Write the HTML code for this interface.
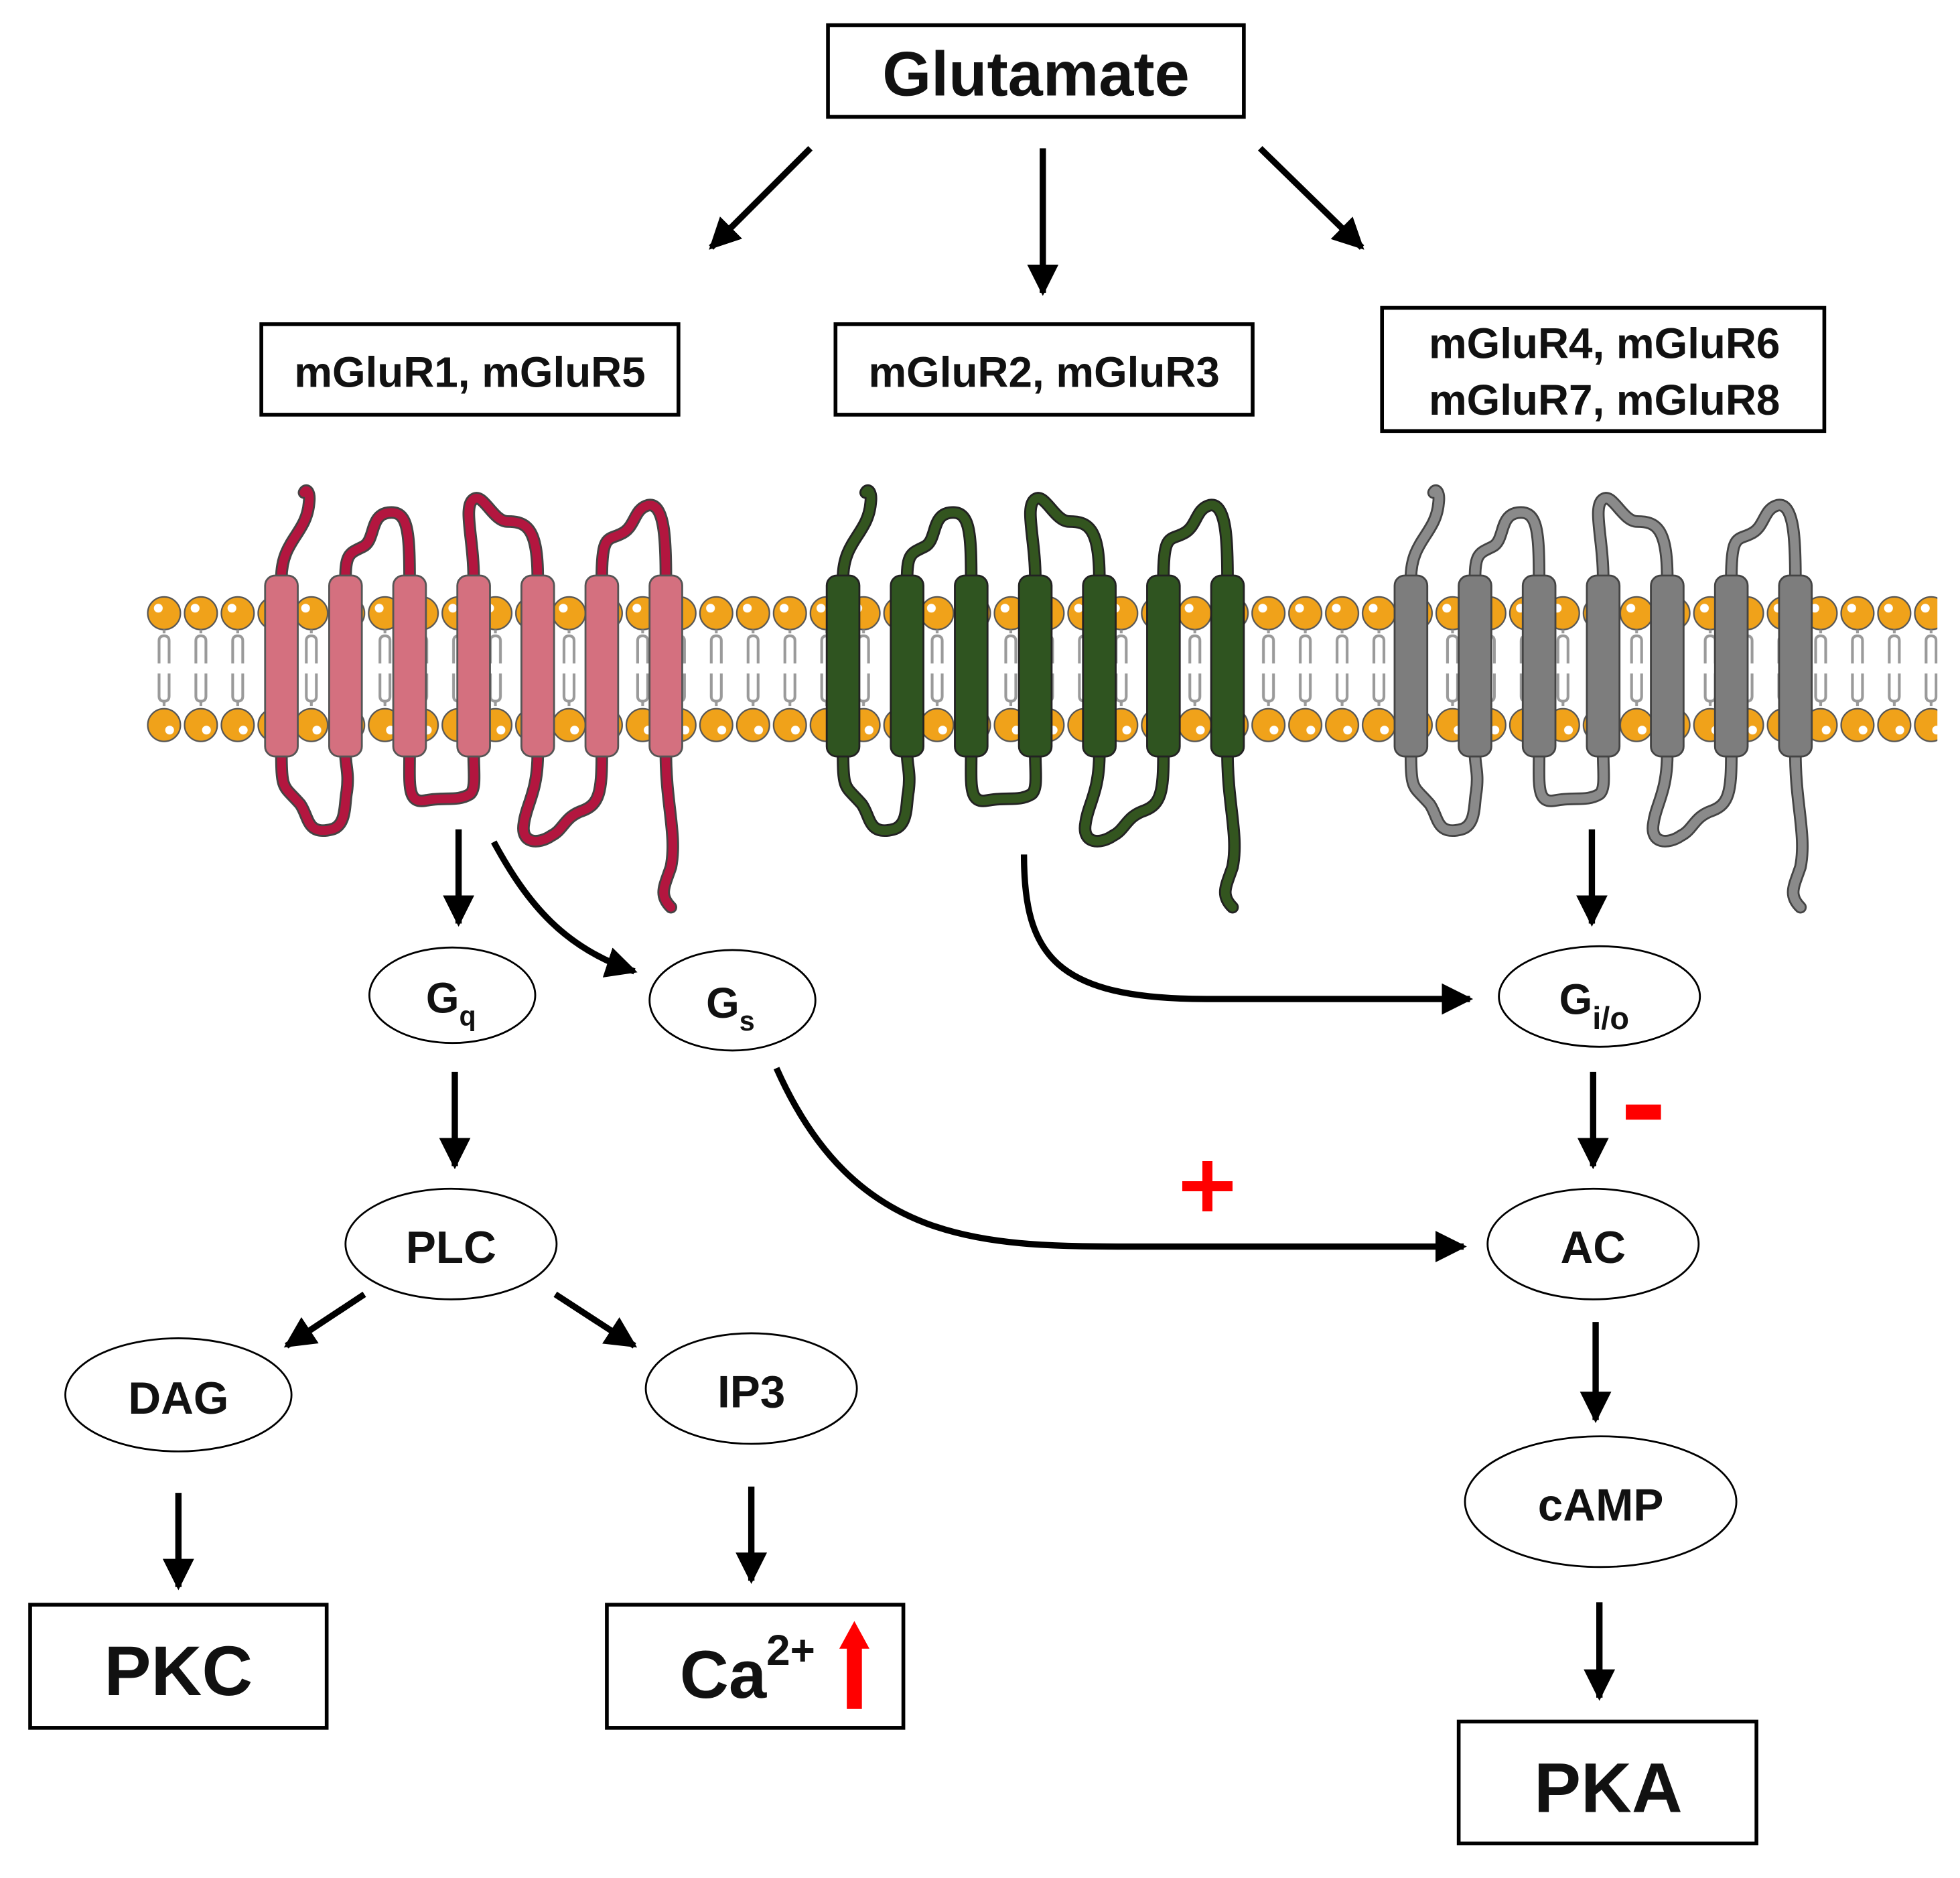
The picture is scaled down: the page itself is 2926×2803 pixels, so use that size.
<!DOCTYPE html>
<html><head><meta charset="utf-8">
<style>
html,body{margin:0;padding:0;background:#fff;}
svg{display:block;}
text{font-family:"Liberation Sans",Arial,sans-serif;font-weight:bold;fill:#111;}
</style></head>
<body>
<svg width="2926" height="2803" viewBox="0 0 1560 1494.5" preserveAspectRatio="none" xmlns="http://www.w3.org/2000/svg">
<defs>
<marker id="ah" viewBox="0 0 10 10" refX="9" refY="5" markerWidth="5" markerHeight="5" markerUnits="strokeWidth" orient="auto">
<path d="M0,0 L10,5 L0,10 z" fill="#000"/>
</marker>
<pattern id="headT" x="116" y="474" width="29.3" height="30" patternUnits="userSpaceOnUse">
<circle cx="14.6" cy="14" r="13" fill="#f0a21a" stroke="#555" stroke-width="1.2"/>
<circle cx="10" cy="10" r="3.5" fill="#fff"/>
<path d="M14.6,27 L14.6,30" stroke="#999" stroke-width="2"/>
</pattern>
<pattern id="headB" x="116" y="562" width="29.3" height="30" patternUnits="userSpaceOnUse">
<circle cx="14.6" cy="15" r="13" fill="#f0a21a" stroke="#555" stroke-width="1.2"/>
<circle cx="19" cy="19" r="3.5" fill="#fff"/>
</pattern>
<pattern id="tails" x="116" y="500" width="29.3" height="62" patternUnits="userSpaceOnUse">
<path d="M14.6,0 V4 M10.6,28 V10 Q10.6,6 14.6,6 Q18.6,6 18.6,10 V28 M10.6,36 V54 Q10.6,58 14.6,58 Q18.6,58 18.6,54 V36 M14.6,58 V62" fill="none" stroke="#9a9a9a" stroke-width="2.2"/>
</pattern>
<g id="loops">
<path d="M0,460 C0,430 20,425 22,400 C23,392 20,388 18,392"/>
<path d="M51,460 C51,440 55,440 65,435 C75,430 70,410 85,408 C100,406 102,420 102,460"/>
<path d="M153,460 C153,430 145,405 152,398 C160,390 168,415 180,415 C195,415 204,420 204,460"/>
<path d="M255,460 C255,425 260,430 270,425 C282,420 280,405 292,402 C305,400 306,430 306,460"/>
<path d="M0,600 C0,630 2,625 15,640 C22,650 20,665 40,660 C52,657 50,640 52,630 C54,615 51,610 51,600"/>
<path d="M102,600 C102,625 100,640 115,637 C130,634 140,638 150,632 C155,628 153,615 153,600"/>
<path d="M204,600 C204,630 195,640 193,655 C190,672 205,672 215,665 C225,660 225,650 240,645 C253,640 255,630 255,600"/>
<path d="M306,600 C306,640 315,665 310,690 C305,705 300,712 310,722"/>
</g>
<g id="helices">
<rect x="-13" y="458" width="26" height="144" rx="8"/>
<rect x="38" y="458" width="26" height="144" rx="8"/>
<rect x="89" y="458" width="26" height="144" rx="8"/>
<rect x="140" y="458" width="26" height="144" rx="8"/>
<rect x="191" y="458" width="26" height="144" rx="8"/>
<rect x="242" y="458" width="26" height="144" rx="8"/>
<rect x="293" y="458" width="26" height="144" rx="8"/>
</g>
</defs>

<rect x="659" y="20" width="331" height="73" fill="#fff" stroke="#000" stroke-width="3"/>
<text x="824.5" y="76" font-size="50" text-anchor="middle">Glutamate</text>

<g stroke="#000" stroke-width="5" fill="none" marker-end="url(#ah)">
<path d="M645,118 L566,197"/>
<path d="M830,118 L830,233"/>
<path d="M1003,118 L1084,197"/>
</g>

<rect x="208" y="258" width="332" height="72" fill="#fff" stroke="#000" stroke-width="3"/>
<text x="374" y="308" font-size="34" text-anchor="middle">mGluR1, mGluR5</text>
<rect x="665" y="258" width="332" height="72" fill="#fff" stroke="#000" stroke-width="3"/>
<text x="831" y="308" font-size="34" text-anchor="middle">mGluR2, mGluR3</text>
<rect x="1100" y="245" width="352" height="98" fill="#fff" stroke="#000" stroke-width="3"/>
<text x="1277" y="285" font-size="34" text-anchor="middle">mGluR4, mGluR6</text>
<text x="1277" y="330" font-size="34" text-anchor="middle">mGluR7, mGluR8</text>

<rect x="116" y="500" width="1426" height="62" fill="url(#tails)"/>
<rect x="116" y="474" width="1426" height="28" fill="url(#headT)"/>
<rect x="116" y="562" width="1426" height="30" fill="url(#headB)"/>

<g transform="translate(224,0)">
<use href="#loops" fill="none" stroke="#444" stroke-width="10" stroke-linecap="round"/>
<use href="#loops" fill="none" stroke="#b3163f" stroke-width="7" stroke-linecap="round"/>
<use href="#helices" fill="#d4707f" stroke="#555" stroke-width="1.5"/>
</g>
<g transform="translate(671,0)">
<use href="#loops" fill="none" stroke="#222" stroke-width="10" stroke-linecap="round"/>
<use href="#loops" fill="none" stroke="#33551f" stroke-width="7" stroke-linecap="round"/>
<use href="#helices" fill="#2f5420" stroke="#222" stroke-width="1.5"/>
</g>
<g transform="translate(1123,0)">
<use href="#loops" fill="none" stroke="#444" stroke-width="10" stroke-linecap="round"/>
<use href="#loops" fill="none" stroke="#8a8a8a" stroke-width="7" stroke-linecap="round"/>
<use href="#helices" fill="#7d7d7d" stroke="#444" stroke-width="1.5"/>
</g>

<g stroke="#000" stroke-width="5" fill="none" marker-end="url(#ah)">
<path d="M365,660 L365,735"/>
<path d="M393,670 C420,720 450,755 505,773"/>
<path d="M362,853 L362,928"/>
<path d="M290,1030 L228,1071"/>
<path d="M442,1030 L505,1071"/>
<path d="M142,1188 L142,1263"/>
<path d="M598,1183 L598,1258"/>
<path d="M815,680 C815,760 840,795 960,795 L1170,795"/>
<path d="M1267,660 L1267,735"/>
<path d="M1268,853 L1268,928"/>
<path d="M618,850 C680,990 780,992 900,992 L1165,992"/>
<path d="M1270,1052 L1270,1130"/>
<path d="M1273,1275 L1273,1351"/>
</g>

<rect x="1294" y="879" width="28" height="12" fill="#f00"/>
<rect x="941" y="940" width="40" height="8" fill="#f00"/>
<rect x="957" y="924" width="8" height="40" fill="#f00"/>

<g fill="#fff" stroke="#000" stroke-width="1.5">
<ellipse cx="360" cy="792" rx="66" ry="38"/>
<ellipse cx="583" cy="796" rx="66" ry="40"/>
<ellipse cx="1273" cy="793" rx="80" ry="40"/>
<ellipse cx="359" cy="990" rx="84" ry="44"/>
<ellipse cx="142" cy="1110" rx="90" ry="45"/>
<ellipse cx="598" cy="1105" rx="84" ry="44"/>
<ellipse cx="1268" cy="990" rx="84" ry="44"/>
<ellipse cx="1274" cy="1195" rx="108" ry="52"/>
</g>
<text x="339" y="806" font-size="34">G<tspan font-size="22" dy="10">q</tspan></text>
<text x="562" y="810" font-size="34">G<tspan font-size="22" dy="10">s</tspan></text>
<text x="1241" y="807" font-size="34">G<tspan font-size="25" dy="12">i/o</tspan></text>
<text x="359" y="1005" font-size="36" text-anchor="middle">PLC</text>
<text x="142" y="1125" font-size="36" text-anchor="middle">DAG</text>
<text x="598" y="1120" font-size="36" text-anchor="middle">IP3</text>
<text x="1268" y="1005" font-size="36" text-anchor="middle">AC</text>
<text x="1274" y="1210" font-size="36" text-anchor="middle">cAMP</text>

<rect x="24" y="1277" width="236" height="98" fill="#fff" stroke="#000" stroke-width="3"/>
<text x="142" y="1349" font-size="56" text-anchor="middle">PKC</text>
<rect x="483" y="1277" width="236" height="98" fill="#fff" stroke="#000" stroke-width="3"/>
<text x="541" y="1351" font-size="54">Ca<tspan font-size="34" dy="-26">2+</tspan></text>
<rect x="674" y="1310" width="12" height="50" fill="#f00"/>
<path d="M668,1312 L680,1290 L692,1312 z" fill="#f00"/>
<rect x="1161" y="1370" width="237" height="97" fill="#fff" stroke="#000" stroke-width="3"/>
<text x="1280" y="1442" font-size="56" text-anchor="middle">PKA</text>
</svg>
</body></html>
